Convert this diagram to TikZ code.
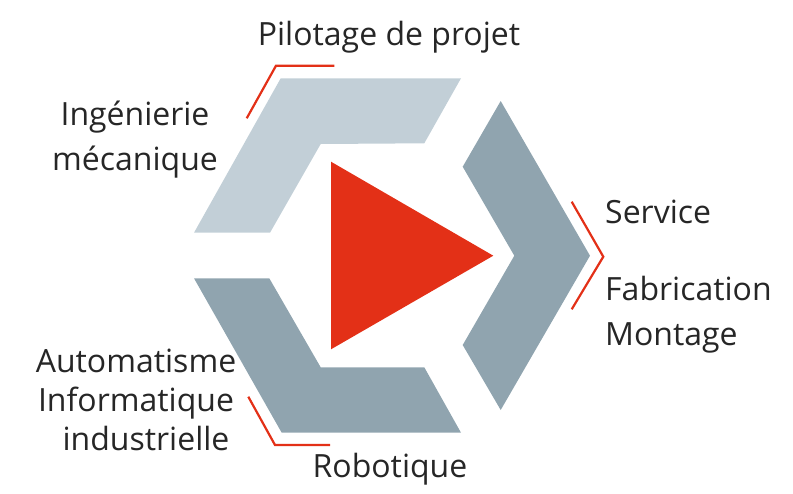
\documentclass[tikz,border=0pt]{standalone}
\usepackage{fontspec}
\setmainfont{Open Sans}
\begin{document}
\begin{tikzpicture}[x=1pt,y=-1pt,
  lbl/.style={font=\fontsize{32}{44}\selectfont,text=black!85,inner sep=0pt}]
\definecolor{light}{HTML}{C2CFD7}\definecolor{dark}{HTML}{90A4AF}\definecolor{rd}{HTML}{E33017}
\useasboundingbox (0,0) rectangle (793,493);
\fill[light] (280.7,78.3)--(461,78.3)--(424.3,143.3)--(320.7,144)--(270,232.7)--(194,232.7)--cycle;
\fill[dark] (194,278.3)--(269.3,278.3)--(320.7,367.3)--(424.3,367.3)--(461,432.7)--(281.7,432.7)--cycle;
\fill[dark] (500.7,101)--(590,255.7)--(500.7,410)--(462.7,345)--(514.3,255.7)--(462.7,166.7)--cycle;
\fill[rd] (331,161.7)--(493.3,255.7)--(331,349.3)--cycle;
\coordinate (t1) at (246.7,118.3); \coordinate (t2) at (276,65.7); \coordinate (t3) at (334.3,65.7);
\coordinate (r1) at (571.7,201.7); \coordinate (r2) at (603.3,256.7); \coordinate (r3) at (571.7,309.3);
\coordinate (b1) at (248.3,396.7); \coordinate (b2) at (275,445); \coordinate (b3) at (330,445);
\draw[draw=rd,line width=2.2pt] (t1)--(t2)--(t3);
\draw[draw=rd,line width=2.2pt] (r1)--(r2)--(r3);
\draw[draw=rd,line width=2.2pt] (b1)--(b2)--(b3);
\node[lbl,anchor=base] (pil) at (389,45) {Pilotage de projet};
\node[lbl,anchor=base] (ing) at (135,125) {Ingénierie};
\node[lbl,anchor=base] (mec) at (135,170) {mécanique};
\node[lbl,anchor=base west] (ser) at (605,223) {Service};
\node[lbl,anchor=base west] (fab) at (605,300) {Fabrication};
\node[lbl,anchor=base west] (mon) at (605,345) {Montage};
\node[lbl,anchor=base] (aut) at (136,372) {Automatisme};
\node[lbl,anchor=base] (inf) at (136,411) {Informatique};
\node[lbl,anchor=base] (ind) at (146,450) {industrielle};
\node[lbl,anchor=base] (rob) at (390,477) {Robotique};
\end{tikzpicture}
\end{document}
